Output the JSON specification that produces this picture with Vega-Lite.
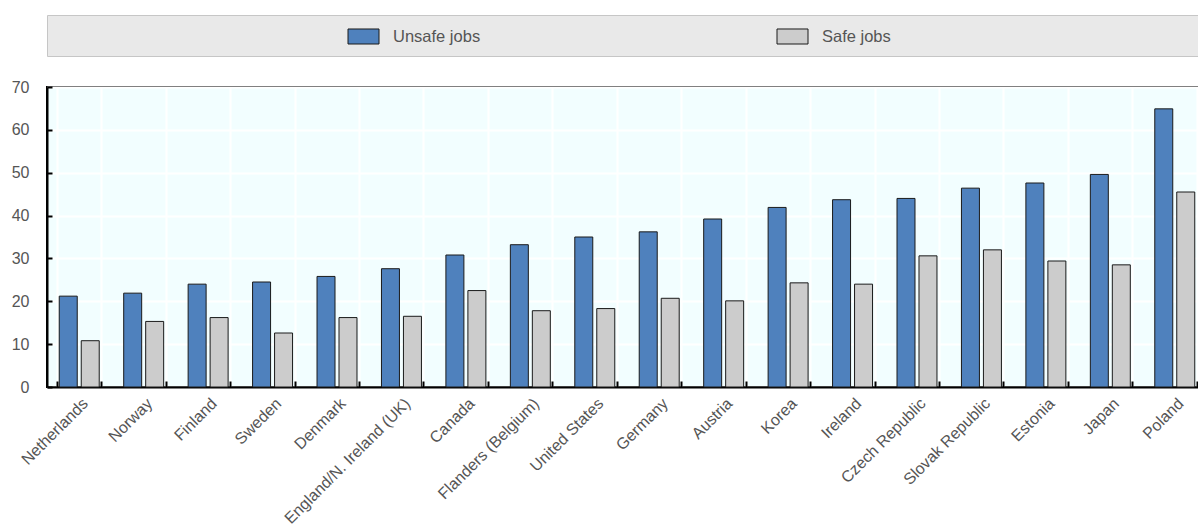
{
  "$schema": "https://vega.github.io/schema/vega-lite/v6.json",
  "padding": {"left": 10, "top": 14, "right": 0, "bottom": 0},
  "spacing": 31,
  "bounds": "flush",
  "background": "white",
  "vconcat": [
    {
      "width": 1160,
      "height": 41,
      "view": {"fill": "#e9e9e9", "stroke": "#c6c6c6", "strokeWidth": 1},
      "data": {"values": [{"series": "Unsafe jobs"}, {"series": "Safe jobs"}]},
      "layer": [
        {
          "mark": {"type": "point", "shape": "M-1,-0.484H1V0.484H-1Z", "size": 961, "filled": true, "stroke": "#1a1a1a", "strokeWidth": 1, "opacity": 1, "yOffset": 1},
          "encoding": {
            "x": {"field": "series", "type": "nominal", "sort": ["Unsafe jobs", "Safe jobs"], "scale": {"type": "point", "range": [316.5, 745.5], "padding": 0}, "axis": null},
            "color": {"field": "series", "type": "nominal", "scale": {"domain": ["Unsafe jobs", "Safe jobs"], "range": ["#4f81bd", "#cccccc"]}, "legend": null}
          }
        },
        {
          "mark": {"type": "text", "align": "left", "baseline": "middle", "dx": 29.5, "yOffset": 1, "font": "Liberation Sans, Arial, sans-serif", "fontSize": 16.5, "color": "#555555"},
          "encoding": {
            "x": {"field": "series", "type": "nominal", "sort": ["Unsafe jobs", "Safe jobs"], "scale": {"type": "point", "range": [316.5, 745.5], "padding": 0}, "axis": null},
            "text": {"field": "series", "type": "nominal"}
          }
        }
      ]
    },
    {
      "width": 1160,
      "height": 300,
      "view": {"fill": "#f2feff", "stroke": "#000000", "strokeWidth": 2},
      "data": {
        "values": [
          {"country": "Netherlands", "series": "Unsafe jobs", "value": 21.2},
          {"country": "Netherlands", "series": "Safe jobs", "value": 10.8},
          {"country": "Norway", "series": "Unsafe jobs", "value": 21.9},
          {"country": "Norway", "series": "Safe jobs", "value": 15.3},
          {"country": "Finland", "series": "Unsafe jobs", "value": 24.0},
          {"country": "Finland", "series": "Safe jobs", "value": 16.2},
          {"country": "Sweden", "series": "Unsafe jobs", "value": 24.5},
          {"country": "Sweden", "series": "Safe jobs", "value": 12.6},
          {"country": "Denmark", "series": "Unsafe jobs", "value": 25.8},
          {"country": "Denmark", "series": "Safe jobs", "value": 16.2},
          {"country": "England/N. Ireland (UK)", "series": "Unsafe jobs", "value": 27.6},
          {"country": "England/N. Ireland (UK)", "series": "Safe jobs", "value": 16.5},
          {"country": "Canada", "series": "Unsafe jobs", "value": 30.8},
          {"country": "Canada", "series": "Safe jobs", "value": 22.5},
          {"country": "Flanders (Belgium)", "series": "Unsafe jobs", "value": 33.2},
          {"country": "Flanders (Belgium)", "series": "Safe jobs", "value": 17.8},
          {"country": "United States", "series": "Unsafe jobs", "value": 35.0},
          {"country": "United States", "series": "Safe jobs", "value": 18.3},
          {"country": "Germany", "series": "Unsafe jobs", "value": 36.2},
          {"country": "Germany", "series": "Safe jobs", "value": 20.7},
          {"country": "Austria", "series": "Unsafe jobs", "value": 39.2},
          {"country": "Austria", "series": "Safe jobs", "value": 20.1},
          {"country": "Korea", "series": "Unsafe jobs", "value": 41.9},
          {"country": "Korea", "series": "Safe jobs", "value": 24.3},
          {"country": "Ireland", "series": "Unsafe jobs", "value": 43.7},
          {"country": "Ireland", "series": "Safe jobs", "value": 24.0},
          {"country": "Czech Republic", "series": "Unsafe jobs", "value": 44.0},
          {"country": "Czech Republic", "series": "Safe jobs", "value": 30.6},
          {"country": "Slovak Republic", "series": "Unsafe jobs", "value": 46.4},
          {"country": "Slovak Republic", "series": "Safe jobs", "value": 32.0},
          {"country": "Estonia", "series": "Unsafe jobs", "value": 47.6},
          {"country": "Estonia", "series": "Safe jobs", "value": 29.4},
          {"country": "Japan", "series": "Unsafe jobs", "value": 49.6},
          {"country": "Japan", "series": "Safe jobs", "value": 28.5},
          {"country": "Poland", "series": "Unsafe jobs", "value": 64.9},
          {"country": "Poland", "series": "Safe jobs", "value": 45.5}
        ]
      },
      "mark": {"type": "bar", "stroke": "#1a1a1a", "strokeWidth": 1},
      "encoding": {
        "x": {
          "field": "country", "type": "nominal", "sort": null,
          "scale": {"paddingInner": 0.3175, "paddingOuter": 0.159},
          "axis": {
            "title": null, "labelAngle": -45, "labelPadding": 14, "labelLimit": 0,
            "tickBand": "extent", "tickSize": -6, "tickWidth": 2, "tickColor": "#000000",
            "domainColor": "#000000", "domainWidth": 2,
            "grid": true, "gridColor": "#ffffff", "gridWidth": 2
          }
        },
        "xOffset": {
          "field": "series", "type": "nominal", "sort": ["Unsafe jobs", "Safe jobs"],
          "scale": {"paddingInner": 0.182, "paddingOuter": 0.091}
        },
        "y": {
          "field": "value", "type": "quantitative",
          "scale": {"domain": [0, 70], "nice": false},
          "axis": {
            "title": null, "values": [0, 10, 20, 30, 40, 50, 60, 70], "labelPadding": 23,
            "tickSize": -5, "tickWidth": 2, "tickColor": "#000000",
            "domainColor": "#000000", "domainWidth": 2,
            "grid": true, "gridColor": "#ffffff", "gridWidth": 2
          }
        },
        "color": {"field": "series", "type": "nominal", "scale": {"domain": ["Unsafe jobs", "Safe jobs"], "range": ["#4f81bd", "#cccccc"]}, "legend": null}
      }
    }
  ],
  "config": {
    "axis": {"labelFont": "Liberation Sans, Arial, sans-serif", "labelFontSize": 16, "labelColor": "#555555"}
  }
}
